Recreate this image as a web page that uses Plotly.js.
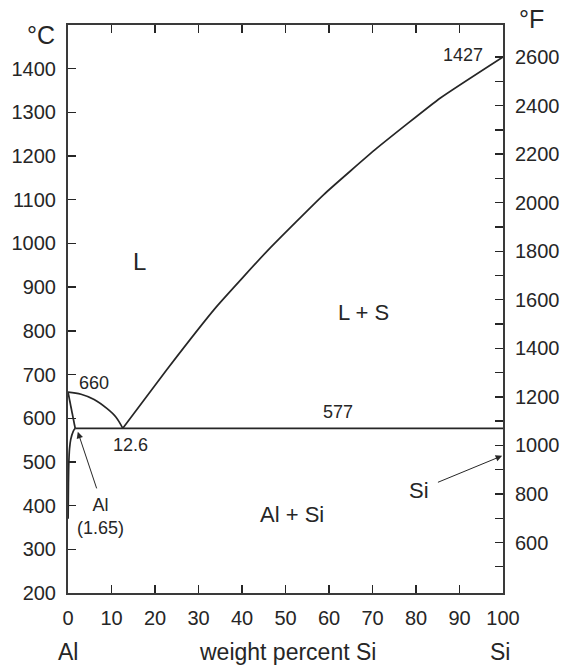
<!DOCTYPE html>
<html>
<head>
<meta charset="utf-8">
<script src="https://cdn.plot.ly/plotly-3.0.1.min.js"></script>
<style>
  html, body { margin: 0; padding: 0; background: #fff; }
  #chart { width: 565px; height: 669px; }
</style>
</head>
<body>
<div id="chart"></div>
<script>
// Al–Si binary phase diagram (temperature vs. weight percent Si)

// Liquidus, Al-rich branch: Al melting point down to the eutectic
const liqAlX = [0, 3, 6, 9, 11, 12.6];
const liqAlT = [660, 655, 643, 622, 603, 577];

// Liquidus, Si-rich branch: eutectic up to the Si melting point
const liqSiX = [12.6, 22.7, 34.2, 46.1, 58.8, 71.0, 85.6, 100];
const liqSiT = [577, 711, 856, 986, 1112, 1218, 1333, 1427];

// Solidus of the (Al) solid solution
const solidusX = [0, 1.65];
const solidusT = [660, 577];

// Solvus of Si in (Al)
const solvusX = [1.65, 1.2, 0.62, 0.35, 0.2, 0.1, 0.03];
const solvusT = [577, 570, 551, 530, 500, 450, 370];

// Eutectic isotherm
const eutecticX = [1.65, 100];
const eutecticT = [577, 577];

// Axis ticks
const xTicks = [0, 10, 20, 30, 40, 50, 60, 70, 80, 90, 100];
const cTicks = [200, 300, 400, 500, 600, 700, 800, 900, 1000, 1100, 1200, 1300, 1400];
const fTicks = [600, 800, 1000, 1200, 1400, 1600, 1800, 2000, 2200, 2400, 2600];
const fMinorTicks = [500, 700, 900, 1100, 1300, 1500, 1700, 1900, 2100, 2300, 2500];

const cRange = [200, 1500];
const toF = c => c * 9 / 5 + 32;

const ink = '#262626';
const lineStyle = { color: ink, width: 1.7 };
const font = 'Liberation Sans, Arial, Helvetica, sans-serif';

const traces = [
  { x: liqAlX, y: liqAlT, mode: 'lines', line: Object.assign({ shape: 'spline' }, lineStyle) },
  { x: liqSiX, y: liqSiT, mode: 'lines', line: Object.assign({ shape: 'spline', smoothing: 0.4 }, lineStyle) },
  { x: solidusX, y: solidusT, mode: 'lines', line: lineStyle },
  { x: solvusX, y: solvusT, mode: 'lines', line: Object.assign({ shape: 'spline' }, lineStyle) },
  { x: eutecticX, y: eutecticT, mode: 'lines', line: lineStyle },
  // invisible trace to carry the °F axis
  { x: [0], y: [toF(cRange[0])], yaxis: 'y2', mode: 'markers', marker: { opacity: 0 }, hoverinfo: 'skip' }
];

function txt(x, y, text, size, extra) {
  return Object.assign({
    x: x, y: y, text: text, showarrow: false,
    xanchor: 'center', yanchor: 'middle',
    font: { family: font, size: size, color: ink }
  }, extra || {});
}

const paper = { xref: 'paper', yref: 'paper' };

const annotations = [
  txt(16.5, 959, 'L', 24),
  txt(67.9, 842, 'L + S', 22),
  txt(51.6, 379, 'Al + Si', 22),
  txt(5.9, 681, '660', 18),
  txt(14.3, 539, '12.6', 18),
  txt(62, 614, '577', 18),
  txt(95.8, 1432, '1427', 18, { xanchor: 'right' }),
  txt(7.4, 376, 'Al<br>(1.65)', 18),
  txt(80.8, 435, 'Si', 22),
  // arrows
  { x: 2.25, y: 569, ax: 6.7, ay: 436, axref: 'x', ayref: 'y', text: '',
    showarrow: true, arrowhead: 2, arrowsize: 1.3, arrowwidth: 1, arrowcolor: ink },
  { x: 99.8, y: 514, ax: 84.7, ay: 452, axref: 'x', ayref: 'y', text: '',
    showarrow: true, arrowhead: 2, arrowsize: 1.3, arrowwidth: 1, arrowcolor: ink },
  // axis captions
  txt(-0.0614, 0.982, '°C', 25, paper),
  txt(1.0655, 1.0105, '°F', 25, paper),
  txt(0.0, -0.1033, 'Al', 23, paper),
  txt(0.504, -0.1033, 'weight percent Si', 23, paper),
  txt(0.994, -0.1033, 'Si', 23, paper)
];

const layout = {
  width: 565,
  height: 669,
  margin: { l: 68, r: 62, t: 25, b: 76 },
  paper_bgcolor: '#fff',
  plot_bgcolor: '#fff',
  showlegend: false,
  font: { family: font, size: 20, color: ink },
  xaxis: {
    range: [0, 100],
    tickvals: xTicks,
    ticks: 'inside', ticklen: 8, tickwidth: 1.3, tickcolor: ink,
    showline: true, linewidth: 2, linecolor: '#3a3a3a', mirror: 'ticks',
    showgrid: false, zeroline: false,
    ticklabelstandoff: 6,
    tickfont: { family: font, size: 20, color: ink }
  },
  yaxis: {
    range: cRange,
    tickvals: cTicks,
    ticks: 'inside', ticklen: 8, tickwidth: 1.3, tickcolor: ink,
    showline: true, linewidth: 2, linecolor: '#3a3a3a', mirror: true,
    showgrid: false, zeroline: false,
    ticklabelstandoff: 6,
    tickfont: { family: font, size: 20, color: ink }
  },
  yaxis2: {
    range: [toF(cRange[0]), toF(cRange[1])],
    overlaying: 'y', side: 'right',
    tickvals: fTicks,
    ticks: 'inside', ticklen: 8, tickwidth: 1.3, tickcolor: ink,
    minor: { tickvals: fMinorTicks, ticks: 'inside', ticklen: 8, tickwidth: 1.3, tickcolor: ink },
    showline: true, linewidth: 2, linecolor: '#3a3a3a',
    showgrid: false, zeroline: false,
    ticklabelstandoff: 6,
    tickfont: { family: font, size: 20, color: ink }
  },
  annotations: annotations
};

Plotly.newPlot('chart', traces, layout, { staticPlot: true, displayModeBar: false });
</script>
</body>
</html>
